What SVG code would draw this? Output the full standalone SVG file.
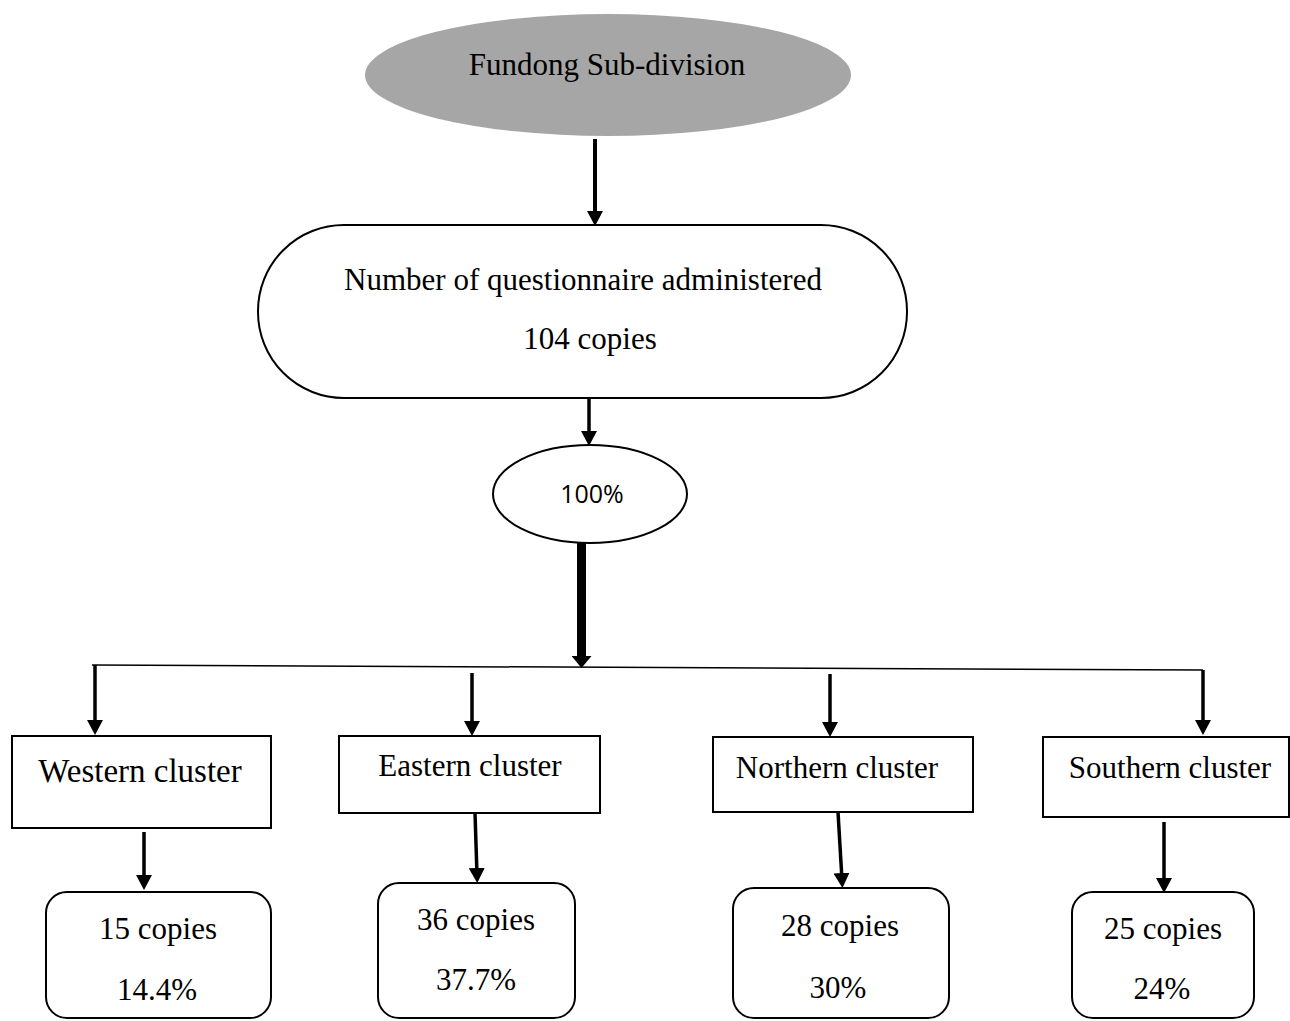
<svg xmlns="http://www.w3.org/2000/svg" width="1290" height="1021" viewBox="0 0 1290 1021">
  <style>
    .serif { font-family: "Liberation Serif", "Times New Roman", serif; fill: #000; text-anchor: middle; }
    .sans { font-family: "Open Sans", "Noto Sans", sans-serif; fill: #000; text-anchor: middle; }
    .outline { fill: #fff; stroke: #000; stroke-width: 2; }
    .conn { stroke: #000; stroke-width: 3.5; fill: none; }
    .conn.main { stroke-width: 4; }
    .conn.bold { stroke-width: 9; }
  </style>
  <defs>
    <marker id="head" viewBox="0 0 15 16" refX="7" refY="8" markerWidth="15" markerHeight="16" markerUnits="userSpaceOnUse" orient="auto">
      <path d="M0,0 L15,8 L0,16 Z" fill="#000"/>
    </marker>
    <marker id="head-bold" viewBox="0 0 12 20" refX="3" refY="10" markerWidth="12" markerHeight="20" markerUnits="userSpaceOnUse" orient="auto">
      <path d="M0,0 L12,10 L0,20 Z" fill="#000"/>
    </marker>
  </defs>
  <rect width="1290" height="1021" fill="#fff"/>

  <!-- connectors -->
  <g id="connectors">
    <line class="conn main" x1="595" y1="139" x2="595" y2="218" marker-end="url(#head)"/>
    <line class="conn" x1="589" y1="398" x2="589" y2="438" marker-end="url(#head)"/>
    <line class="conn bold" x1="581.5" y1="543" x2="581.5" y2="659" marker-end="url(#head-bold)"/>
    <line x1="92" y1="665" x2="1203" y2="670" stroke="#000" stroke-width="1.5"/>
    <line class="conn" x1="95" y1="665" x2="95" y2="727" marker-end="url(#head)"/>
    <line class="conn" x1="472" y1="673" x2="472" y2="728" marker-end="url(#head)"/>
    <line class="conn" x1="830" y1="674" x2="830" y2="729" marker-end="url(#head)"/>
    <line class="conn" x1="1203" y1="670" x2="1203" y2="727" marker-end="url(#head)"/>
    <line class="conn" x1="144" y1="832" x2="144" y2="882" marker-end="url(#head)"/>
    <line class="conn" x1="475" y1="813" x2="477" y2="875" marker-end="url(#head)"/>
    <line class="conn" x1="838" y1="812" x2="842" y2="880" marker-end="url(#head)"/>
    <line class="conn" x1="1164" y1="822" x2="1164" y2="885" marker-end="url(#head)"/>
  </g>

  <!-- root -->
  <g id="fundong">
    <ellipse cx="608" cy="75" rx="243" ry="61" fill="#a6a6a6"/>
    <text class="serif" x="607" y="75" font-size="31">Fundong Sub-division</text>
  </g>

  <g id="administered">
    <rect class="outline" x="258" y="225" width="649" height="173" rx="86" ry="86"/>
    <text class="serif" x="583" y="290" font-size="31">Number of questionnaire administered</text>
    <text class="serif" x="590" y="349" font-size="31">104 copies</text>
  </g>

  <g id="total">
    <ellipse class="outline" cx="590" cy="494" rx="97" ry="49"/>
    <text class="sans" x="592" y="503" font-size="25">100%</text>
  </g>

  <!-- clusters -->
  <g id="western">
    <rect class="outline" x="12" y="736" width="259" height="92"/>
    <text class="serif" x="140" y="782" font-size="33">Western cluster</text>
  </g>
  <g id="eastern">
    <rect class="outline" x="339" y="736" width="261" height="77"/>
    <text class="serif" x="470" y="776" font-size="31">Eastern cluster</text>
  </g>
  <g id="northern">
    <rect class="outline" x="713" y="737" width="260" height="75"/>
    <text class="serif" x="837" y="778" font-size="31">Northern cluster</text>
  </g>
  <g id="southern">
    <rect class="outline" x="1043" y="737" width="246" height="80"/>
    <text class="serif" x="1170" y="778" font-size="31">Southern cluster</text>
  </g>

  <!-- per-cluster counts -->
  <g id="western-count">
    <rect class="outline" x="46" y="892" width="225" height="126" rx="21" ry="21"/>
    <text class="serif" x="158" y="939" font-size="31">15 copies</text>
    <text class="serif" x="157" y="1000" font-size="31">14.4%</text>
  </g>
  <g id="eastern-count">
    <rect class="outline" x="378" y="883" width="197" height="135" rx="21" ry="21"/>
    <text class="serif" x="476" y="930" font-size="31">36 copies</text>
    <text class="serif" x="476" y="990" font-size="31">37.7%</text>
  </g>
  <g id="northern-count">
    <rect class="outline" x="733" y="888" width="216" height="130" rx="21" ry="21"/>
    <text class="serif" x="840" y="936" font-size="31">28 copies</text>
    <text class="serif" x="838" y="998" font-size="31">30%</text>
  </g>
  <g id="southern-count">
    <rect class="outline" x="1072" y="892" width="182" height="126" rx="21" ry="21"/>
    <text class="serif" x="1163" y="939" font-size="31">25 copies</text>
    <text class="serif" x="1162" y="999" font-size="31">24%</text>
  </g>
</svg>
